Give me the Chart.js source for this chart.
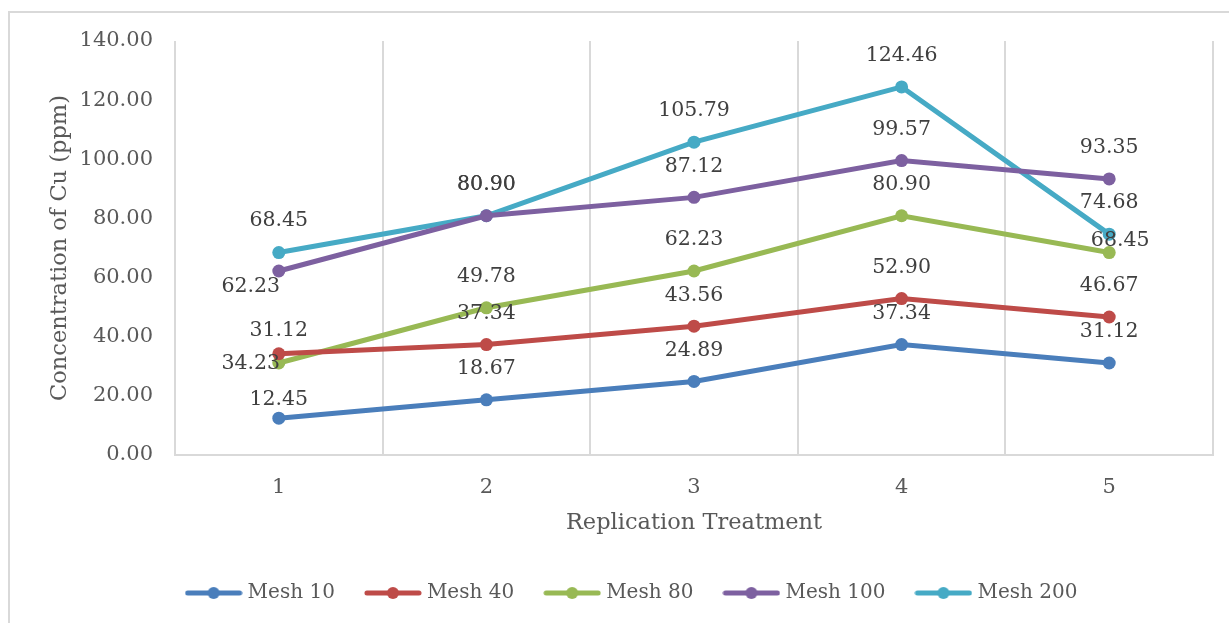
<!DOCTYPE html>
<html>
<head>
<meta charset="utf-8">
<script src="https://cdn.jsdelivr.net/npm/chart.js@4.4.1/dist/chart.umd.min.js"></script>
<style>
  html, body { margin: 0; padding: 0; background: #fff; }
  #wrap { position: relative; width: 1229px; height: 623px; overflow: hidden; }
  #frame { position: absolute; left: 8px; top: 11px; width: 1300px; height: 700px;
           border-top: 2px solid #d9d9d9; border-left: 2px solid #d9d9d9; pointer-events: none; }
  canvas { position: absolute; left: 0; top: 0; }
</style>
</head>
<body>
<div id="wrap">
  <div id="frame"></div>
  <canvas id="cuChart" width="1229" height="623"></canvas>
</div>
<script>
// categories and series
const replications = ['1', '2', '3', '4', '5'];
const mesh10 = [12.45, 18.67, 24.89, 37.34, 31.12];
const mesh40 = [34.23, 37.34, 43.56, 52.90, 46.67];
const mesh80 = [31.12, 49.78, 62.23, 80.90, 68.45];
const mesh100 = [62.23, 80.90, 87.12, 99.57, 93.35];
const mesh200 = [68.45, 80.90, 105.79, 124.46, 74.68];
const seriesNames = ['Mesh 10', 'Mesh 40', 'Mesh 80', 'Mesh 100', 'Mesh 200'];

const colors = ['#4a7ebb', '#be4b48', '#98b954', '#7d60a0', '#46aac5'];
const FONT = '"DejaVu Serif", "Liberation Serif", serif';
const TEXT = '#595959';

// where each value label sits relative to its point (dx, dy)
const labelShift = [
  [[0, -19], [0, -31], [0, -31], [0, -31], [0, -31]],
  [[-28, 10], [0, -31], [0, -31], [0, -31], [0, -31]],
  [[0, -32], [0, -31], [0, -31], [0, -31], [11, -12]],
  [[-28, 16], [0, -31], [0, -31], [0, -31], [0, -31]],
  [[0, -32], [0, -31], [0, -31], [0, -31], [0, -31]]
];

// legend marker: short line with a dot in the middle
const legendMarker = (color) => {
  const c = document.createElement('canvas');
  c.width = 58;
  c.height = 14;
  const g = c.getContext('2d');
  g.strokeStyle = color;
  g.lineWidth = 5;
  g.lineCap = 'round';
  g.beginPath();
  g.moveTo(3, 7);
  g.lineTo(55, 7);
  g.stroke();
  g.fillStyle = color;
  g.beginPath();
  g.arc(29, 7, 6, 0, Math.PI * 2);
  g.fill();
  return c;
};

const valueLabels = {
  id: 'valueLabels',
  afterDatasetsDraw(chart) {
    const ctx = chart.ctx;
    ctx.save();
    ctx.font = '20.5px ' + FONT;
    ctx.fillStyle = '#404040';
    ctx.textAlign = 'center';
    ctx.textBaseline = 'middle';
    chart.data.datasets.forEach((ds, di) => {
      const meta = chart.getDatasetMeta(di);
      meta.data.forEach((pt, i) => {
        const s = labelShift[di][i];
        ctx.fillText(ds.data[i].toFixed(2), pt.x + s[0], pt.y + s[1]);
      });
    });
    ctx.restore();
  }
};

const allSeries = [mesh10, mesh40, mesh80, mesh100, mesh200];
const datasets = allSeries.map((vals, i) => ({
  label: seriesNames[i],
  data: vals,
  borderColor: colors[i],
  backgroundColor: colors[i],
  borderWidth: 5,
  pointRadius: 6.5,
  pointBorderWidth: 0,
  pointBackgroundColor: colors[i],
  tension: 0
}));

new Chart(document.getElementById('cuChart'), {
  type: 'line',
  data: { labels: replications, datasets: datasets },
  options: {
    responsive: false,
    animation: false,
    layout: { padding: { left: 54, right: 16, top: 41, bottom: 10 } },
    plugins: {
      tooltip: { enabled: false },
      legend: {
        position: 'bottom',
        labels: {
          usePointStyle: true,
          pointStyleWidth: 48,
          padding: 34,
          color: TEXT,
          font: { family: FONT, size: 20 },
          generateLabels(chart) {
            return chart.data.datasets.map((ds, i) => ({
              text: ds.label,
              pointStyle: legendMarker(colors[i]),
              fillStyle: colors[i],
              strokeStyle: colors[i],
              lineWidth: 0,
              fontColor: TEXT,
              datasetIndex: i
            }));
          }
        }
      }
    },
    scales: {
      x: {
        offset: true,
        grid: { offset: true, color: '#d9d9d9', lineWidth: 2, drawTicks: false },
        border: { color: '#d9d9d9', width: 2 },
        ticks: { color: TEXT, font: { family: FONT, size: 21 }, padding: 20 },
        title: {
          display: true,
          text: 'Replication Treatment',
          color: TEXT,
          font: { family: FONT, size: 22.5 },
          padding: { top: 0, bottom: 12.5 }
        },
        afterFit(scale) { scale.height = 94; }
      },
      y: {
        min: 0,
        max: 140,
        ticks: {
          stepSize: 20,
          color: TEXT,
          padding: 22,
          font: { family: FONT, size: 21 },
          callback: (v) => v.toFixed(2)
        },
        grid: { display: false, drawTicks: false },
        border: { display: false },
        title: {
          display: true,
          text: 'Concentration of Cu (ppm)',
          color: TEXT,
          font: { family: FONT, size: 22.5 },
          padding: { top: -7.5, bottom: 0 }
        },
        afterFit(scale) { scale.width = 121; }
      }
    }
  },
  plugins: [valueLabels]
});
</script>
</body>
</html>
